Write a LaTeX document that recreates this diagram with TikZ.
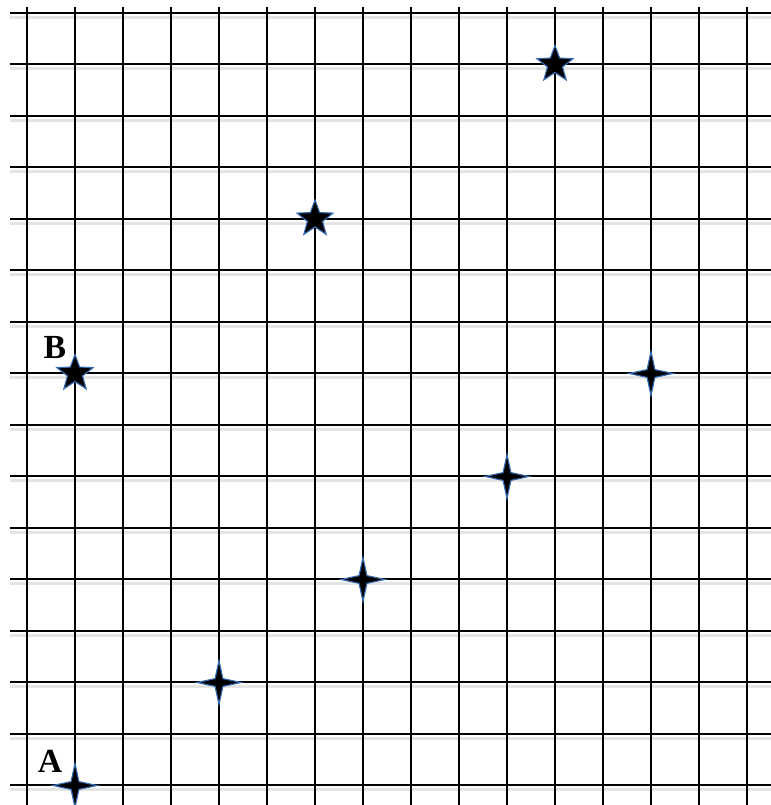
\documentclass[tikz,border=0pt]{standalone}
\usepackage{fontspec}
\newfontfamily\labelfont{Liberation Serif}
\definecolor{starblue}{RGB}{55,105,175}
\definecolor{gridshade}{RGB}{228,228,228}
\usetikzlibrary{shapes.geometric}

\begin{document}
\begin{tikzpicture}[x=12mm, y=-12.875mm,
    bigstar/.style={star, star points=5, star point ratio=2.4, fill=black, draw=starblue, line width=0.8pt, minimum size=9.5mm, inner sep=0pt},
    sparkle/.style={star, star points=4, star point ratio=4, fill=black, draw=starblue, line width=0.8pt, minimum size=11mm, inner sep=0pt},
    ptlabel/.style={font=\labelfont\bfseries\fontsize{24}{28}\selectfont, inner sep=0pt}]
    \useasboundingbox (-0.5625,-0.2524) rectangle (15.5,15.379);
    % grade
    \foreach \j in {0,...,15}{
      \draw[gridshade, line width=0.8mm] (-0.354,\j+0.08) -- (15.5,\j+0.08);
      \draw[line width=0.5mm] (-0.354,\j) -- (15.5,\j);
    }
    \foreach \i in {0,...,15}
      \draw[line width=0.5mm] (\i,-0.117) -- (\i,15.379);
    % estrelas de quatro pontas
    \node[sparkle] (A) at (1,15) {};
    \node[sparkle] (p1) at (4,13) {};
    \node[sparkle] (p2) at (7,11) {};
    \node[sparkle] (p3) at (10,9) {};
    \node[sparkle] (p4) at (13,7) {};
    % estrelas de cinco pontas
    \node[bigstar] (B) at (1,7) {};
    \node[bigstar] (q1) at (6,4) {};
    \node[bigstar] (q2) at (11,1) {};
    % rotulos
    \node[ptlabel] (labA) at (0.479,14.54) {A};
    \node[ptlabel] (labB) at (0.583,6.50) {B};
  \end{tikzpicture}
\end{document}
